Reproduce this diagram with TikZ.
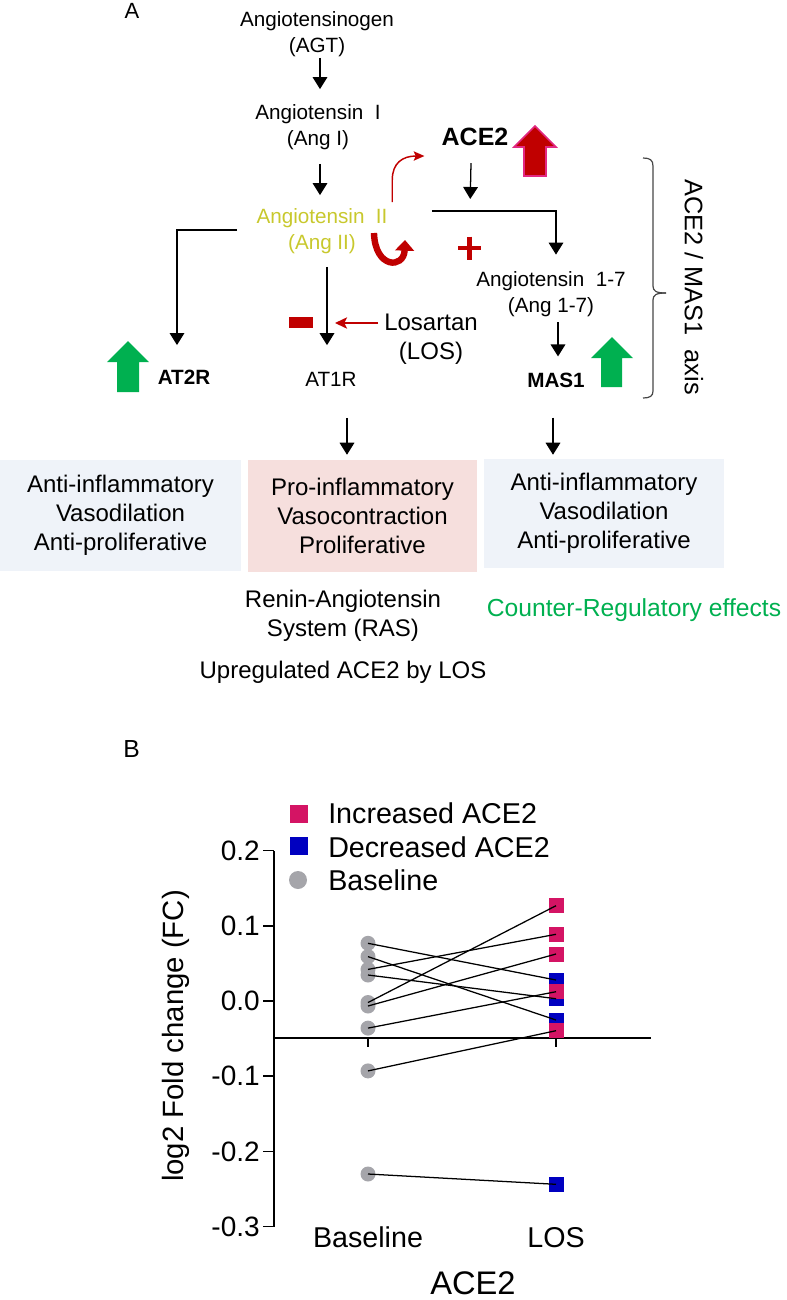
\documentclass[tikz,border=0pt]{standalone}
\usepackage{fontspec}
\setmainfont{Liberation Sans}
\usetikzlibrary{arrows.meta,calc}
\definecolor{angY}{RGB}{200,200,45}
\definecolor{dred}{RGB}{192,0,0}
\definecolor{gr}{RGB}{0,176,80}
\definecolor{boxblue}{RGB}{239,243,249}
\definecolor{boxpink}{RGB}{246,223,221}
\definecolor{magb}{RGB}{226,40,130}
\definecolor{pinkm}{RGB}{212,20,100}
\definecolor{blueq}{RGB}{0,0,192}
\definecolor{grayc}{RGB}{165,165,170}
\definecolor{bracec}{RGB}{70,70,70}
\begin{document}
\begin{tikzpicture}[x=0.75pt,y=-0.75pt,
  flow/.style={font=\fontsize{15.5}{19.5}\selectfont, align=center, inner sep=0pt},
  flowb/.style={font=\fontsize{15.5}{19.5}\selectfont\bfseries, inner sep=0pt},
  big/.style={font=\fontsize{18}{21.75}\selectfont, align=center, inner sep=0pt},
  effect/.style={font=\fontsize{18}{21.75}\selectfont, align=center, inner sep=0pt},
  panel/.style={inner sep=0pt},
  arr/.style={-{Triangle[width=11pt,length=9pt]}, line width=0.95pt},
  redarr/.style={dred, line width=1.1pt, -{Stealth[width=8.5pt,length=9pt,inset=2pt]}},
  redthin/.style={dred, line width=1.1pt, -{Stealth[width=7pt,length=8pt,inset=1.5pt]}},
  redthick/.style={dred, line width=4.8pt, -{Triangle[width=14pt,length=8pt]}},
  bracepath/.style={bracec, line width=0.9pt},
  axisline/.style={line width=1.1pt},
  tick/.style={font=\fontsize{21}{24}\selectfont, inner sep=0pt},
  xl/.style={font=\fontsize{21.5}{24}\selectfont, inner sep=0pt},
  leg/.style={font=\fontsize{21.5}{24}\selectfont, inner sep=0pt, anchor=west},
  sq/.style={rectangle, inner sep=0pt, minimum size=11.25pt},
  lsq/.style={rectangle, inner sep=0pt, minimum size=13.5pt},
  circ/.style={circle, inner sep=0pt, minimum size=11.25pt, fill=grayc},
  dl/.style={line width=0.95pt}
]
\useasboundingbox (0,0) rectangle (786,1300);

% ---------------- Panel A ----------------
\node[panel, font=\fontsize{16.5}{18}\selectfont] (lblA) at (132,11) {A};

\node[flow] (agt) at (317,34) {Angiotensinogen\\(AGT)};
\node[flow] (ang1) at (318,127) {Angiotensin~~I\\(Ang I)};
\node[flow, text=angY] (ang2) at (322,231) {Angiotensin~~II\\(Ang II)};
\node[flow] (ang17) at (551,294.5) {Angiotensin~~1-7\\(Ang 1-7)};
\node[panel, font=\fontsize{18.75}{22}\selectfont\bfseries] (ace2) at (475,137) {ACE2};
\node[flowb] (at2r) at (184,377.5) {AT2R};
\node[flow] (at1r) at (331,379.5) {AT1R};
\node[flowb] (mas1) at (556,380) {MAS1};
\node[big] (los) at (431,339) {Losartan\\(LOS)};

% black arrows
\draw[arr] ($(agt.south)+(3,1)$) -- ($(ang1.north)+(2,-15)$);
\draw[arr] ($(ang1.south)+(2,14)$) -- ($(ang2.north)+(-2,-13)$);
\draw[arr] ($(ang2.west)+(-19,-1)$) -| ($(at2r.north)+(-7,-25)$);
\draw[arr] ($(ang2.south)+(5,13)$) -- ($(at1r.north)+(-4,-27)$);
\draw[arr] ($(ang2.east)+(44,-20)$) -| ($(ang17.north)+(5,-17)$);
\coordinate (junc) at ($(ang2.east)+(82.5,-20)$);
\draw[arr] ($(ace2.south)+(-4,17)$) -- ($(junc)+(0,-12)$);
\draw[arr] ($(ang17.south)+(7,5)$) -- ($(mas1.north)+(2,-16)$);

% Losartan block
\coordinate (blockpt) at ($(los.west)+(-49,-16)$);
\draw[redarr] ($(los.west)+(-6,-16)$) -- (blockpt);
\node[fill=dred, minimum width=18pt, minimum height=8.25pt, inner sep=0pt] (minus) at (301,322.5) {};

% red curved arrows
\draw[redthin] ($(ang2.north east)+(4.5,-6)$) -- ++(0,-22) .. controls ++(0,-17) and ++(-22,0) .. ($(ace2.west)+(-17,19)$);
\draw[redthick] (374,233) .. controls (375,269) and (404,269) .. (405,240);
% plus
\draw[dred, line width=3.6pt] (458,248) -- (481,248) (469.5,236.5) -- (469.5,259.5);

% block arrows
\filldraw[fill=dred, draw=magb, line width=1.2pt] (514,147) -- (535,126) -- (556,147) -- (546,147) -- (546,176) -- (524,176) -- (524,147) -- cycle;
\fill[gr] (107,362) -- (128,341) -- (149,362) -- (139,362) -- (139,392) -- (117,392) -- (117,362) -- cycle;
\fill[gr] (591,358) -- (612,337) -- (633,358) -- (622,358) -- (622,387) -- (601,387) -- (601,358) -- cycle;

% brace
\draw[bracepath] (643,158) .. controls (650,158) and (653,160) .. (653,166) -- (653,286) .. controls (653,291) and (656,293) .. (666,293);
\draw[bracepath] (666,293) .. controls (656,293) and (653,295) .. (653,300) -- (653,391) .. controls (653,396) and (650,398) .. (643,398);
\node[panel, font=\fontsize{19}{22}\selectfont, rotate=-90] (axislab) at (694,287) {ACE2 / MAS1~~axis};

% effect boxes
\node[effect, fill=boxblue, minimum width=180.75pt, minimum height=83.25pt] (anti1) at (120.5,515.5) {Anti-inflammatory\\Vasodilation\\Anti-proliferative};
\node[effect, fill=boxpink, minimum width=171.75pt, minimum height=84pt] (pro) at (362.5,516) {Pro-inflammatory\\Vasocontraction\\Proliferative};
\node[effect, fill=boxblue, minimum width=180pt, minimum height=81.75pt] (anti2) at (604,513.5) {Anti-inflammatory\\Vasodilation\\Anti-proliferative};

\draw[arr] ($(at1r.south)+(16,31)$) -- ($(pro.north)+(-15.5,-5)$);
\draw[arr] ($(mas1.south)+(-3,30)$) -- ($(anti2.north)+(-51,-4)$);

\node[big] (ras) at (343,616) {Renin-Angiotensin\\System (RAS)};
\node[big] (upreg) at (343,672) {Upregulated ACE2 by LOS};
\node[big, font=\fontsize{18.5}{22}\selectfont, text=gr] (counter) at (634,610) {Counter-Regulatory effects};

% ---------------- Panel B ----------------
\node[panel, font=\fontsize{18.5}{20}\selectfont] (lblB) at (131.5,749.5) {B};

\draw[axisline] (274,851) -- (274,1227);
\foreach \v/\t [count=\i] in {0.2/0.2,0.1/0.1,0.0/0.0,-0.1/-0.1,-0.2/-0.2,-0.3/-0.3}{
  \draw[axisline] (263,{1001-752*\v}) -- (274,{1001-752*\v});
  \node[tick, anchor=east] (tk\i) at (260,{1001-752*\v}) {\t};
}
\draw[axisline] (274,1038) -- (651,1038);
\draw[axisline] (368,1038) -- (368,1047);
\draw[axisline] (556,1038) -- (556,1047);

\node[xl] (xbase) at (368,1237.5) {Baseline};
\node[xl] (xlos) at (556,1237.5) {LOS};
\node[panel, font=\fontsize{24.5}{28}\selectfont] (xlab) at (473,1283.5) {ACE2};
\node[panel, font=\fontsize{22}{26}\selectfont, rotate=90] (ylab) at (176,1036) {log2 Fold change (FC)};

% legend
\node[lsq, fill=pinkm] (lg1) at (299,813.5) {};
\node[lsq, fill=blueq] (lg2) at (299,846) {};
\node[circle, inner sep=0pt, minimum size=13.5pt, fill=grayc] (lg3) at (298,880) {};
\node[leg] (lt1) at (328,813) {Increased ACE2};
\node[leg] (lt2) at (328,847) {Decreased ACE2};
\node[leg] (lt3) at (328,880) {Baseline};

% baseline points
\node[circ] (b1) at (368,943.3) {};
\node[circ] (b2) at (368,956.6) {};
\node[circ] (b3) at (368,969.4) {};
\node[circ] (b4) at (368,975) {};
\node[circ] (b5) at (368,1002.5) {};
\node[circ] (b6) at (368,1006) {};
\node[circ] (b7) at (368,1028.1) {};
\node[circ] (b8) at (368,1070.9) {};
\node[circ] (b9) at (368,1174) {};
% LOS points
\node[sq, fill=blueq] (q1) at (556,980) {};
\node[sq, fill=blueq] (q2) at (556,998.7) {};
\node[sq, fill=blueq] (q3) at (556,1020) {};
\node[sq, fill=blueq] (q4) at (556,1184.3) {};
\node[sq, fill=pinkm] (p1) at (556,905.7) {};
\node[sq, fill=pinkm] (p2) at (556,934.3) {};
\node[sq, fill=pinkm] (p3) at (556,954) {};
\node[sq, fill=pinkm] (p4) at (556,991.7) {};
\node[sq, fill=pinkm] (p5) at (556,1030.7) {};

\draw[dl] (b1.center) -- (q1.center);
\draw[dl] (b2.center) -- (q3.center);
\draw[dl] (b3.center) -- (p2.center);
\draw[dl] (b4.center) -- (q2.center);
\draw[dl] (b5.center) -- (p1.center);
\draw[dl] (b6.center) -- (p3.center);
\draw[dl] (b7.center) -- (p4.center);
\draw[dl] (b8.center) -- (p5.center);
\draw[dl] (b9.center) -- (q4.center);
\end{tikzpicture}
\end{document}
